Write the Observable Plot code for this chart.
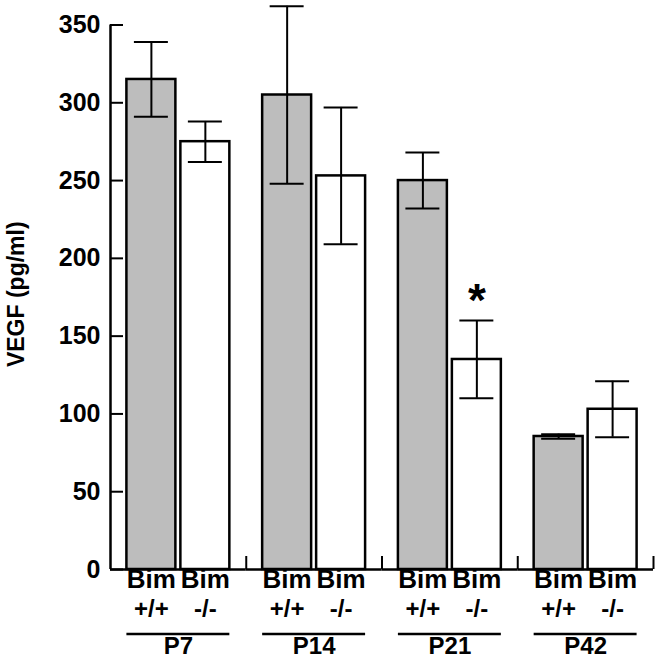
<!DOCTYPE html>
<html><head><meta charset="utf-8">
<script src="https://cdn.jsdelivr.net/npm/d3@7"></script>
<script src="https://cdn.jsdelivr.net/npm/@observablehq/plot@0.6"></script>
<style>body{margin:0;background:#fff}</style>
</head><body><div id="chart"></div>
<script>
const periods = ["P7", "P14", "P21", "P42"];
const genotypes = ["+/+", "-/-"];
const wildtypeMean = [315, 305, 250, 85.5];
const wildtypeErr = [24, 57, 18, 1.5];
const knockoutMean = [275, 253, 135, 103];
const knockoutErr = [13, 44, 25, 18];
const significant = [false, false, true, false];
const yTicks = [0, 50, 100, 150, 200, 250, 300, 350];
const yLabel = "VEGF (pg/ml)";
const groupPrefix = "Bim";

const rows = [];
periods.forEach((p, i) => {
  rows.push({period: p, genotype: genotypes[0], mean: wildtypeMean[i], err: wildtypeErr[i], sig: false});
  rows.push({period: p, genotype: genotypes[1], mean: knockoutMean[i], err: knockoutErr[i], sig: significant[i]});
});

const W = 662, H = 670, mL = 110, mR = 9, mT = 24.5, mB = 101;
const pIn = 0.0926, pOut = 0.304;
const facetW = (W - mL - mR) / periods.length;
const step = facetW / (genotypes.length - pIn + 2 * pOut);
const bw = step * (1 - pIn);
const outer = pOut * step;
const edge = bw / 2 + outer;
const tickLen = 13;
const font = "'Liberation Sans', Arial, Helvetica, sans-serif";

const chart = Plot.plot({
  width: W, height: H,
  marginLeft: mL, marginRight: mR, marginTop: mT, marginBottom: mB,
  style: {fontFamily: font, background: "#fff", color: "#000"},
  fx: {domain: periods, paddingInner: 0, paddingOuter: 0, round: false, axis: null, label: null},
  x: {domain: genotypes, paddingInner: pIn, paddingOuter: pOut, round: false, axis: null, label: null},
  y: {domain: [0, 350], axis: null, label: null},
  marks: [
    Plot.barY(rows, {fx: "period", x: "genotype", y: "mean",
      fill: d => d.genotype === genotypes[0] ? "#bdbdbd" : "#ffffff",
      stroke: "#000", strokeWidth: 2.5}),
    Plot.ruleX(rows, {fx: "period", x: "genotype", y1: d => d.mean - d.err, y2: d => d.mean + d.err, stroke: "#000", strokeWidth: 2}),
    Plot.tickY(rows, {fx: "period", x: "genotype", y: d => d.mean + d.err, inset: 7.5, stroke: "#000", strokeWidth: 2}),
    Plot.tickY(rows, {fx: "period", x: "genotype", y: d => d.mean - d.err, inset: 7.5, stroke: "#000", strokeWidth: 2}),
    Plot.text(rows.filter(d => d.sig), {fx: "period", x: "genotype", y: d => d.mean + d.err, text: () => "*",
      dy: -19, fontSize: 46, fontWeight: "bold", fill: "#000"}),
    // axes
    Plot.ruleY([0], {stroke: "#000", strokeWidth: 2.5}),
    Plot.ruleX([periods[0]], {fx: d => d, x: () => genotypes[0], dx: -edge, y1: () => 0, y2: () => 350, stroke: "#000", strokeWidth: 2.5}),
    Plot.ruleX(periods, {fx: d => d, x: () => genotypes[1], dx: edge, y1: () => 0, y2: () => 0, insetTop: -tickLen, stroke: "#000", strokeWidth: 2}),
    Plot.ruleY(yTicks, {fx: () => periods[0], x1: () => genotypes[0], x2: () => genotypes[0], y: d => d,
      insetLeft: -outer, insetRight: bw + outer - tickLen, stroke: "#000", strokeWidth: 2}),
    Plot.axisY({ticks: yTicks, tickSize: 0, tickPadding: 10, fontSize: 25, fontWeight: "bold", tickFormat: d => String(d), label: null}),
    Plot.text([yLabel], {fx: () => periods[0], frameAnchor: "left", textAnchor: "middle", dx: -94, dy: -3, rotate: -90, text: d => d, fontSize: 23, fontWeight: "bold", fill: "#000"}),
    // category labels
    Plot.text(rows, {fx: "period", x: "genotype", frameAnchor: "bottom", textAnchor: "middle", dy: 18, text: () => groupPrefix, fontSize: 26, fontWeight: "bold", fill: "#000"}),
    Plot.text(rows, {fx: "period", x: "genotype", frameAnchor: "bottom", textAnchor: "middle", dy: 47, text: "genotype", fontSize: 24, fontWeight: "bold", fill: "#000"}),
    Plot.ruleY(periods, {fx: d => d, x1: () => genotypes[0], x2: () => genotypes[1], y: () => 0, dy: 64.5, stroke: "#000", strokeWidth: 2.5}),
    Plot.text(periods, {fx: d => d, frameAnchor: "bottom", textAnchor: "middle", dy: 84, text: d => d, fontSize: 24, fontWeight: "bold", fill: "#000"})
  ]
});
document.getElementById("chart").appendChild(chart);
</script>
</body></html>
